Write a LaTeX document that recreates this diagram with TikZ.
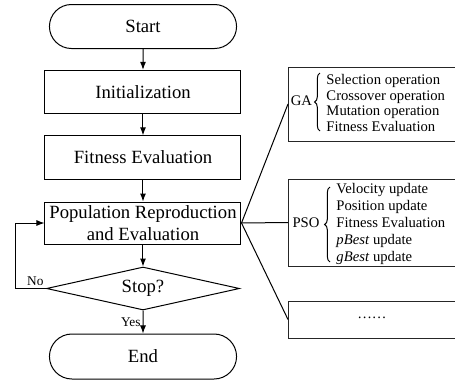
\documentclass[tikz,border=0pt]{standalone}
\usepackage{fontspec}
\setmainfont{Liberation Serif}
\usetikzlibrary{shapes.geometric, shapes.misc, arrows.meta, decorations.pathreplacing}

\begin{document}
\begin{tikzpicture}[x=0.75pt, y=-0.75pt, line width=0.75pt,
    term/.style={shape=rounded rectangle, draw=black, minimum width=147pt, minimum height=33pt, font=\fontsize{14}{16.5}\selectfont},
    proc/.style={shape=rectangle, draw=black, minimum width=147pt, minimum height=32.5pt, align=center, inner sep=1pt, font=\fontsize{14}{16.5}\selectfont},
    cond/.style={shape=diamond, draw=black, aspect=4.5, inner sep=0pt, minimum width=144.75pt, minimum height=32.25pt, font=\fontsize{14}{16.5}\selectfont},
    algo/.style={shape=rectangle, draw=black!85, anchor=west, minimum width=150pt},
    lab/.style={font=\fontsize{10}{12}\selectfont, inner sep=1.5pt},
    small/.style={font=\fontsize{11}{12}\selectfont, inner sep=0pt},
    ops/.style={small, anchor=west, align=left},
    curly/.style={decorate, decoration={brace, amplitude=4pt}},
    flow/.style={-{Latex[length=6pt, width=4.5pt]}}]
    \useasboundingbox (0,0) rectangle (455,383);

    % flow chart
    \node[term] (start) at (143, 26.5) {Start};
    \node[proc] (init) at (143, 92) {Initialization};
    \node[proc] (fit) at (143, 157.5) {Fitness Evaluation};
    \node[proc, minimum height=31.5pt] (pop) at (143, 223) {Population Reproduction\\and Evaluation};
    \node[cond] (stop) at (143, 288.5) {Stop?};
    \node[term, minimum height=33.75pt] (end) at (143, 356.5) {End};

    \draw[flow] (start) -- (init);
    \draw[flow] (init) -- (fit);
    \draw[flow] (fit) -- (pop);
    \draw[flow] (pop) -- (stop);
    \draw[flow] (stop) -- node[lab, left] {Yes} (end);
    \draw[flow] (stop.west) -- node[lab, above, pos=0.35] {No} ++(-30.5, 0) |- (pop.west);

    % algorithms
    \node[algo, minimum height=55.5pt] (ga) at (288, 104) {};
    \node[algo, minimum height=65.25pt] (pso) at (288, 222.5) {};
    \node[algo, minimum height=27.75pt] (more) at (288, 319.5) {};

    \node[small] (galab) at (301.5, 101) {GA};
    \draw[curly] (320, 131) -- (320, 73);
    \node[ops, font=\fontsize{11}{11.6}\selectfont] (gaops) at (326, 103) {Selection operation\\Crossover operation\\Mutation operation\\Fitness Evaluation};

    \node[small] (psolab) at (306, 223) {PSO};
    \draw[curly] (330, 262) -- (330, 187);
    \node[ops, font=\fontsize{11}{12.75}\selectfont] (psoops) at (336, 223.5) {Velocity update\\Position update\\Fitness Evaluation\\\textit{pBest} update\\\textit{gBest} update};

    \node[small] (dots) at (372, 318) {\ldots\ldots};

    \draw (pop.east) -- (ga.west);
    \draw (pop.east) -- (pso.west);
    \draw (pop.east) -- (more.west);
\end{tikzpicture}
\end{document}
